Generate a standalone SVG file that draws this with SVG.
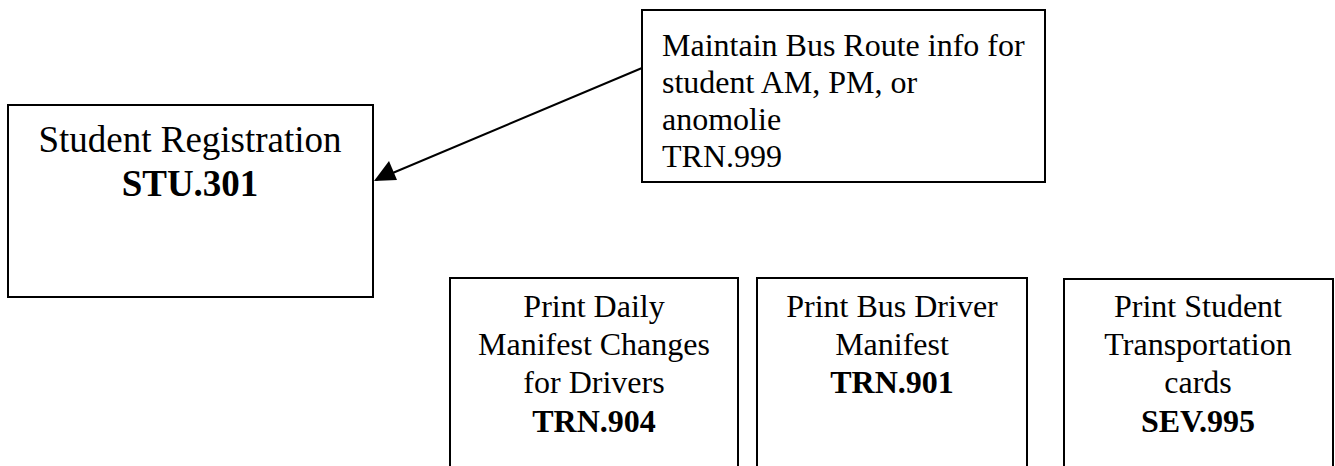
<svg xmlns="http://www.w3.org/2000/svg" width="1335" height="466" viewBox="0 0 1335 466">
<style>
.box{fill:#fff;stroke:#000;stroke-width:2}
.t{font-family:"Liberation Serif","Times New Roman",serif;font-size:32px;fill:#000}
.c{text-anchor:middle}
.b{font-weight:bold}
.big{font-size:37px}
.conn{stroke:#000;stroke-width:2;fill:none}
</style>
<defs>
<marker id="ah" markerWidth="12" markerHeight="10" refX="11" refY="5" orient="auto" markerUnits="userSpaceOnUse" viewBox="0 0 12 10">
<path d="M0,0 L12,5 L0,10 Z" fill="#000"/>
</marker>
</defs>
<rect width="1335" height="466" fill="#fff"/>
<g id="connectors">
<line class="conn" x1="642" y1="68" x2="376" y2="180"/>
<path d="M374,181 L389,161 L397,180 Z" fill="#000"/>
</g>
<g id="stu301">
<rect class="box" x="8" y="105" width="365" height="192"/>
<text class="t c big" x="190" y="152">Student Registration</text>
<text class="t c big b" x="190" y="196">STU.301</text>
</g>
<g id="trn999">
<rect class="box" x="642" y="10" width="403" height="172"/>
<text class="t" x="662" y="56">Maintain Bus Route info for</text>
<text class="t" x="662" y="93">student AM, PM, or</text>
<text class="t" x="662" y="130">anomolie</text>
<text class="t" x="662" y="167">TRN.999</text>
</g>
<g id="trn904">
<rect class="box" x="450" y="278" width="288" height="200"/>
<text class="t c" x="594" y="317">Print Daily</text>
<text class="t c" x="594" y="355">Manifest Changes</text>
<text class="t c" x="594" y="393">for Drivers</text>
<text class="t c b" x="594" y="432">TRN.904</text>
</g>
<g id="trn901">
<rect class="box" x="757" y="278" width="270" height="200"/>
<text class="t c" x="892" y="317">Print Bus Driver</text>
<text class="t c" x="892" y="355">Manifest</text>
<text class="t c b" x="892" y="393">TRN.901</text>
</g>
<g id="sev995">
<rect class="box" x="1064" y="279" width="269" height="200"/>
<text class="t c" x="1198" y="317">Print Student</text>
<text class="t c" x="1198" y="355">Transportation</text>
<text class="t c" x="1198" y="393">cards</text>
<text class="t c b" x="1198" y="432">SEV.995</text>
</g>
</svg>
